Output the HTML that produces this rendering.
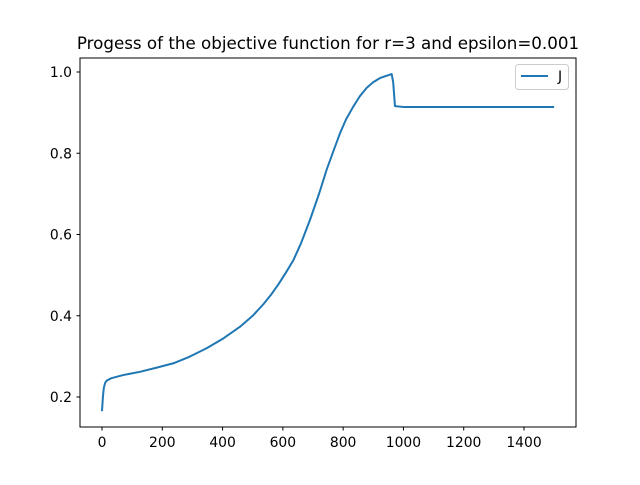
<!DOCTYPE html>
<html><head><style>
body{margin:0;background:#fff}
svg text{font-family:"DejaVu Sans","Liberation Sans",sans-serif;fill:#000}
</style></head><body>
<svg id="chart" width="640" height="480">
<rect width="640" height="480" fill="#fff"/>
<text x="328" y="49" font-size="16.7" text-anchor="middle">Progess of the objective function for r=3 and epsilon=0.001</text>
<g id="ticks"></g>
<path id="line" fill="none" stroke="#1f77b4" stroke-width="2" stroke-linejoin="round"/>
<rect x="80" y="58" width="496" height="369" fill="none" stroke="#000" stroke-width="1"/>
<g>
<rect x="515.5" y="64.5" width="53" height="25" rx="3" fill="#fff" stroke="#ccc"/>
<line x1="521" y1="76" x2="548" y2="76" stroke="#1f77b4" stroke-width="2"/>
<text x="558" y="81" font-size="13.9">J</text>
</g>
</svg>
<script>
const xs=[0,3,6,10,15,30,70,126,180,237,290,347,400,458,500,535,560,585,610,635,660,690,720,745,770,790,810,833,855,878,900,922,945,961,966,970,972,1000,1500];
const ys=[0.165,0.2,0.222,0.234,0.24,0.246,0.254,0.262,0.272,0.283,0.299,0.32,0.343,0.373,0.4,0.428,0.451,0.477,0.506,0.537,0.578,0.636,0.7,0.759,0.81,0.85,0.884,0.914,0.94,0.961,0.975,0.985,0.991,0.995,0.975,0.935,0.916,0.914,0.914];
const xTicks=[0,200,400,600,800,1000,1200,1400];
const yTicks=[0.2,0.4,0.6,0.8,1.0];
const X=v=>102+v*(422/1400);
const Y=v=>397-(v-0.2)*(325/0.8);
const ns="http://www.w3.org/2000/svg";
const g=document.getElementById('ticks');
function mk(t,a){const e=document.createElementNS(ns,t);for(const k in a)e.setAttribute(k,a[k]);g.appendChild(e);return e;}
xTicks.forEach(v=>{
 const l=mk('line',{x1:X(v),x2:X(v),y1:427,y2:430.5,stroke:'#000'});
 
 
 const t=mk('text',{x:X(v),y:447,'font-size':13.9,'text-anchor':'middle'});t.textContent=v;
 
 
});
yTicks.forEach(v=>{
 const l=mk('line',{x1:76.5,x2:80,y1:Y(v),y2:Y(v),stroke:'#000'});
 
 
 const t=mk('text',{x:72,y:Y(v)+5,'font-size':13.9,'text-anchor':'end'});t.textContent=v.toFixed(1);
 
 
});
document.getElementById('line').setAttribute('d',xs.map((x,i)=>(i?'L':'M')+X(x).toFixed(2)+' '+Y(ys[i]).toFixed(2)).join(''));
</script>
</body></html>
